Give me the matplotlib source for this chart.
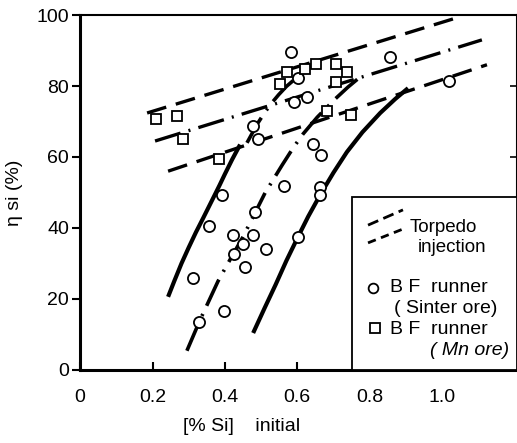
import matplotlib
matplotlib.use('Agg')
import matplotlib.pyplot as plt
from matplotlib.lines import Line2D
from matplotlib.patches import Rectangle

plt.rcParams['font.family'] = ['Liberation Sans', 'DejaVu Sans']

# BF runner (sinter ore) - circles
sinter_x = [0.583, 0.602, 0.591, 0.627, 0.856, 1.019, 0.478, 0.492, 0.644, 0.666,
            0.563, 0.663, 0.663, 0.602, 0.392, 0.356, 0.483, 0.423, 0.478, 0.450,
            0.514, 0.425, 0.456, 0.312, 0.398, 0.329]
sinter_y = [89.6, 82.2, 75.5, 76.8, 88.1, 81.4, 68.7, 65.0, 63.6, 60.6,
            51.8, 51.6, 49.3, 37.5, 49.3, 40.6, 44.5, 38.0, 38.0, 35.5,
            34.0, 32.7, 29.0, 25.9, 16.6, 13.5]

# BF runner (Mn ore) - squares
mn_x = [0.210, 0.268, 0.285, 0.384, 0.552, 0.572, 0.620, 0.652, 0.707, 0.737, 0.707, 0.682, 0.749]
mn_y = [70.7, 71.5, 65.0, 59.4, 80.6, 84.0, 84.7, 86.2, 86.2, 84.0, 81.2, 73.0, 71.8]

# torpedo injection lines
upper_x = [0.185, 1.03]
upper_y = [72.4, 98.9]
mid_x = [0.207, 1.11]
mid_y = [64.5, 93.0]
lower_x = [0.243, 1.124]
lower_y = [56.0, 86.0]

# BF runner curves
left_x = [0.243, 0.26, 0.28, 0.30, 0.32, 0.34, 0.365, 0.385, 0.40, 0.42, 0.442]
left_y = [20.6, 25.0, 30.0, 34.5, 38.8, 42.8, 47.9, 52.0, 55.2, 59.3, 63.5]
left2_x = [0.461, 0.49, 0.511, 0.53, 0.548, 0.57, 0.594]
left2_y = [64.0, 69.4, 72.7, 75.3, 77.5, 79.9, 82.0]
midc_x = [0.295, 0.331, 0.381, 0.406, 0.45, 0.483, 0.511, 0.558, 0.59, 0.616,
          0.655, 0.704, 0.74, 0.773]
midc_y = [5.4, 14.0, 25.0, 29.6, 37.5, 44.2, 49.9, 57.7, 62.8, 66.5,
          71.2, 76.3, 79.7, 82.5]
right_x = [0.478, 0.51, 0.54, 0.57, 0.602, 0.63, 0.663, 0.70, 0.737, 0.78,
           0.829, 0.87, 0.906]
right_y = [10.4, 17.5, 24.0, 30.8, 37.5, 43.2, 49.3, 55.6, 61.4, 67.0,
           72.4, 76.3, 79.4]

x_ticks = [0, 0.2, 0.4, 0.6, 0.8, 1.0]
x_ticklabels = ['0', '0.2', '0.4', '0.6', '0.8', '1.0']
y_ticks = [0, 20, 40, 60, 80, 100]

fig = plt.figure(figsize=(5.17, 4.43), dpi=100)
ax = fig.add_axes([0.155, 0.165, 0.845, 0.801])

dash = (0, (6, 3))
dashdot = (0, (8, 2.5, 0.6, 2.5))

ax.plot(upper_x, upper_y, color='k', lw=2.4, linestyle=dash)
ax.plot(mid_x, mid_y, color='k', lw=2.4, linestyle=dashdot)
ax.plot(lower_x, lower_y, color='k', lw=2.4, linestyle=dash)

ax.plot(left_x, left_y, color='k', lw=3.0, solid_capstyle='butt', solid_joinstyle='round')
ax.plot(left2_x, left2_y, color='k', lw=2.6, linestyle=dashdot)
ax.plot(midc_x, midc_y, color='k', lw=2.6, linestyle=dashdot)
ax.plot(right_x, right_y, color='k', lw=3.0, solid_capstyle='butt', solid_joinstyle='round')

ax.plot(sinter_x, sinter_y, 'o', ms=8, mfc='white', mec='k', mew=1.3, linestyle='none')
ax.plot(mn_x, mn_y, 's', ms=7.5, mfc='white', mec='k', mew=1.3, linestyle='none')

ax.set_xlim(0, 1.207)
ax.set_ylim(0, 100)
ax.set_xticks(x_ticks)
ax.set_xticklabels(x_ticklabels)
ax.set_yticks(y_ticks)
ax.tick_params(axis='x', direction='in', length=6, width=1.5, pad=14, labelsize=14)
ax.tick_params(axis='y', direction='out', length=6, width=1.5, pad=2, labelsize=14)

sec = ax.secondary_yaxis('right')
sec.set_yticks(y_ticks)
sec.tick_params(direction='in', length=5, width=1.2, labelright=False)
sec.spines['right'].set_visible(False)

ax.spines['left'].set_linewidth(2.2)
ax.spines['bottom'].set_linewidth(2.2)
ax.spines['top'].set_linewidth(1.5)
ax.spines['right'].set_linewidth(1.5)

ax.set_ylabel('η si (%)', fontsize=14, labelpad=10)
ax.set_xlabel('[% Si]    initial', fontsize=14)
ax.xaxis.set_label_coords(0.37, -0.135)

# legend box
ax.add_patch(Rectangle((0.622, 0.0), 0.378, 0.487, transform=ax.transAxes,
                       fill=True, facecolor='white', edgecolor='k', lw=1.3, zorder=5))
ax.add_line(Line2D([0.659, 0.739], [0.408, 0.451], transform=ax.transAxes,
                   color='k', lw=2.0, linestyle=(0, (4, 2)), zorder=6))
ax.add_line(Line2D([0.659, 0.739], [0.358, 0.397], transform=ax.transAxes,
                   color='k', lw=2.0, linestyle=(0, (3, 2)), zorder=6))
ax.text(0.755, 0.40, 'Torpedo', transform=ax.transAxes, fontsize=13.5, va='center', zorder=6)
ax.text(0.773, 0.344, 'injection', transform=ax.transAxes, fontsize=13.5, va='center', zorder=6)
ax.add_line(Line2D([0.670], [0.231], transform=ax.transAxes, marker='o', ms=7,
                   mfc='white', mec='k', mew=1.3, zorder=6))
ax.text(0.709, 0.231, 'B F  runner', transform=ax.transAxes, fontsize=14, va='center', zorder=6)
ax.text(0.719, 0.172, '( Sinter ore)', transform=ax.transAxes, fontsize=14, va='center', zorder=6)
ax.add_line(Line2D([0.675], [0.118], transform=ax.transAxes, marker='s', ms=6.5,
                   mfc='white', mec='k', mew=1.3, zorder=6))
ax.text(0.709, 0.115, 'B F  runner', transform=ax.transAxes, fontsize=14, va='center', zorder=6)
ax.text(0.80, 0.054, '( Mn ore)', transform=ax.transAxes, fontsize=14, va='center',
        style='italic', zorder=6)

fig.savefig('out.png', dpi=100)
